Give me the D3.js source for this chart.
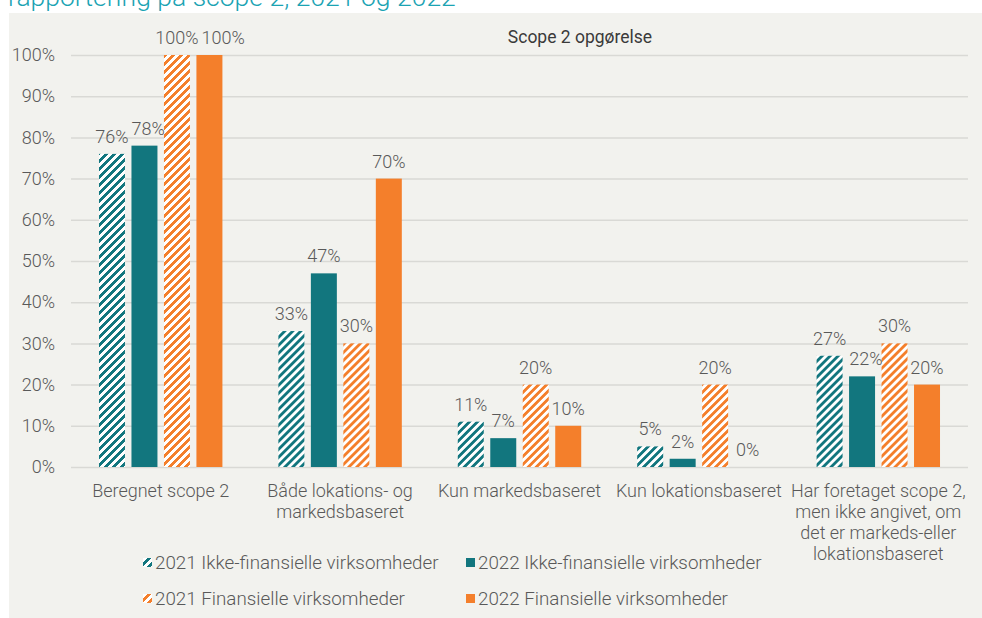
<!DOCTYPE html>
<html><head><meta charset="utf-8">
<script src="https://cdn.jsdelivr.net/npm/d3@7"></script>
<style>
html,body{margin:0;padding:0;background:#fff;overflow:hidden;}
svg{display:block;}
text{font-family:Roboto, "Open Sans", sans-serif;}
</style></head>
<body>
<svg id="chart" width="982" height="618"></svg>
<script>
const categories = ["Beregnet scope 2", "Både lokations- og\nmarkedsbaseret", "Kun markedsbaseret", "Kun lokationsbaseret", "Har foretaget scope 2,\nmen ikke angivet, om\ndet er markeds-eller\nlokationsbaseret"];
const seriesNames = ["2021 Ikke-finansielle virksomheder", "2022 Ikke-finansielle virksomheder", "2021 Finansielle virksomheder", "2022 Finansielle virksomheder"];
const ikke2021 = [0.76, 0.33, 0.11, 0.05, 0.27];
const ikke2022 = [0.78, 0.47, 0.07, 0.02, 0.22];
const fin2021 = [1.00, 0.30, 0.20, 0.20, 0.30];
const fin2022 = [1.00, 0.70, 0.10, 0.00, 0.20];
const yTicks = [0, 0.1, 0.2, 0.3, 0.4, 0.5, 0.6, 0.7, 0.8, 0.9, 1.0];
const titleText = "rapportering på scope 2, 2021 og 2022";
const chartTitle = "Scope 2 opgørelse";

(function() {
const seriesValues = [ikke2021, ikke2022, fin2021, fin2022];
const teal = "#12767e", orange = "#f47f2b";
const txt = "#595959";
const fs = 18;
const seriesStyle = [
  {color: teal, hatch: true},
  {color: teal, hatch: false},
  {color: orange, hatch: true},
  {color: orange, hatch: false}
];

const svg = d3.select("#chart");
const defs = svg.append("defs");
seriesStyle.forEach((s, i) => {
  if (!s.hatch) return;
  const p = defs.append("pattern").attr("id", "hatch" + i)
    .attr("patternUnits", "userSpaceOnUse").attr("width", 8).attr("height", 8);
  p.append("rect").attr("width", 8).attr("height", 8).attr("fill", "#fff");
  const g = p.append("g").attr("fill", s.color).attr("shape-rendering", "crispEdges");
  for (let r = 0; r < 8; r++) {
    for (let k = 0; k < 4; k++) {
      const c = ((7 - r + k) % 8 + 8) % 8;
      g.append("rect").attr("x", c).attr("y", r).attr("width", 1).attr("height", 1);
    }
  }
});
const fillOf = i => seriesStyle[i].hatch ? `url(#hatch${i})` : seriesStyle[i].color;

svg.append("text").attr("x", 8).attr("y", 6)
  .attr("font-size", 26.5).attr("font-weight", 300).attr("fill", "#1ba3b3")
  .text(titleText);

svg.append("rect").attr("x", 9).attr("y", 13).attr("width", 973).attr("height", 605).attr("fill", "#f2f2ee");

const mLeft = 71, mRight = 968, mTop = 55, mBottom = 467;
const y = d3.scaleLinear().domain([0, 1]).range([mBottom, mTop]);
const x0 = d3.scaleBand().domain(categories).range([mLeft, mRight]).paddingInner(0.312).paddingOuter(0.156);
const x1 = d3.scaleBand().domain(d3.range(4)).range([0, x0.bandwidth()]).paddingInner(0.2).paddingOuter(0);

const yAxis = d3.axisLeft(y).tickValues(yTicks).tickFormat(d3.format(".0%")).tickSize(-(mRight - mLeft)).tickPadding(16);
const ga = svg.append("g").attr("transform", `translate(${mLeft},0)`).call(yAxis);
ga.select(".domain").remove();
ga.selectAll(".tick line").attr("stroke", "#d9d9d5").attr("stroke-width", 1.5);
ga.selectAll(".tick text").attr("font-size", fs).attr("font-weight", 300).attr("fill", txt)
  .attr("font-family", "Roboto, sans-serif").attr("x", -16);

svg.append("text").attr("x", 580).attr("y", 43).attr("text-anchor", "middle")
  .attr("font-size", 17.5).attr("fill", "#3a3a3a").text(chartTitle);

const groups = svg.append("g").selectAll("g").data(categories).join("g")
  .attr("transform", d => `translate(${x0(d)},0)`);
groups.each(function(cat, ci) {
  const g = d3.select(this);
  const data = seriesValues.map((vals, si) => ({si, v: vals[ci]}));
  g.selectAll("rect").data(data).join("rect")
    .attr("x", d => x1(d.si)).attr("width", x1.bandwidth())
    .attr("y", d => y(d.v)).attr("height", d => y(0) - y(d.v))
    .attr("fill", d => fillOf(d.si));
  const labels = g.selectAll("text").data(data).join("text")
    .attr("x", d => x1(d.si) + x1.bandwidth() / 2)
    .attr("y", d => y(d.v) - 11)
    .attr("text-anchor", "middle").attr("font-size", fs).attr("font-weight", 300).attr("fill", txt)
    .text(d => d3.format(".0%")(d.v));
  let prev = null;
  labels.each(function(d) {
    const b = this.getBBox();
    if (prev && Math.abs(prev.y - b.y) < b.height && b.x < prev.x + prev.width + 3) {
      const shift = prev.x + prev.width + 3 - b.x;
      d3.select(this).attr("x", +d3.select(this).attr("x") + shift);
      b.x += shift;
    }
    prev = b;
  });
});

const xl = svg.append("g").selectAll("text").data(categories).join("text")
  .attr("x", d => x0(d) + x0.bandwidth() / 2).attr("y", 497)
  .attr("text-anchor", "middle").attr("font-size", fs).attr("font-weight", 300).attr("fill", txt);
xl.each(function(d) {
  d.split("\n").forEach((line, i) => {
    d3.select(this).append("tspan").attr("x", x0(d) + x0.bandwidth() / 2).attr("dy", i === 0 ? 0 : 21).text(line);
  });
});

const legPos = [[143, 563], [466, 563], [143, 599], [466, 599]];
const lg = svg.append("g").selectAll("g").data(seriesNames).join("g")
  .attr("transform", (d, i) => `translate(${legPos[i][0]},${legPos[i][1]})`);
lg.append("rect").attr("x", 0).attr("y", -5).attr("width", 9).attr("height", 9).attr("fill", (d, i) => fillOf(i));
lg.append("text").attr("x", 12).attr("y", 6).attr("font-size", 18.8).attr("font-weight", 300).attr("fill", txt).text(d => d);
})();
</script>
</body></html>
